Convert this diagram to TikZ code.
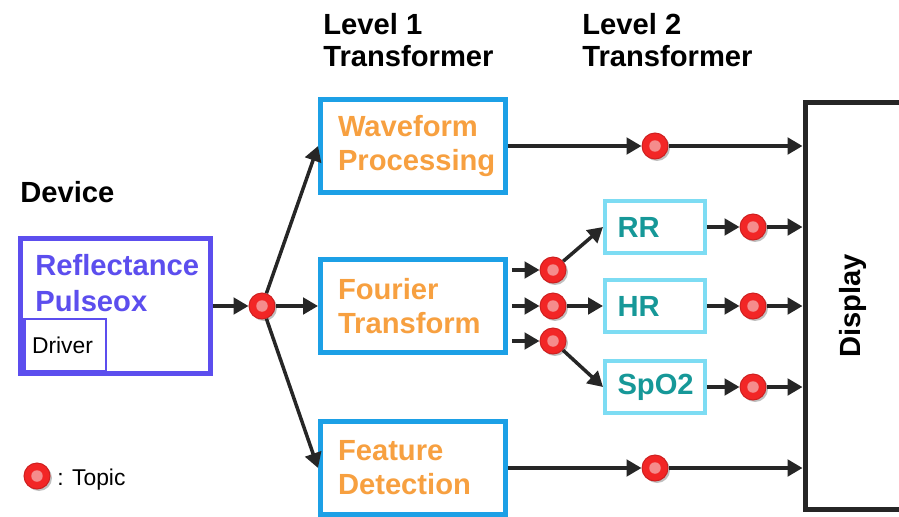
\documentclass[tikz,border=0pt]{standalone}
\usepackage{fontspec}
\usepackage{graphicx}
\setmainfont{Liberation Sans}
\usetikzlibrary{arrows.meta, positioning, shadows}

\definecolor{devblue}{RGB}{92,78,238}
\definecolor{lvlblue}{RGB}{28,160,230}
\definecolor{lvlorange}{RGB}{247,160,64}
\definecolor{subcyan}{RGB}{125,220,243}
\definecolor{subteal}{RGB}{22,152,152}
\definecolor{topicred}{RGB}{242,38,38}
\definecolor{topicpink}{RGB}{245,140,140}
\definecolor{linegray}{RGB}{38,38,38}

\begin{document}
\begin{tikzpicture}[x=0.02cm, y=-0.02cm,
  bigtext/.style = {font=\fontsize{16.6pt}{19.3pt}\selectfont\bfseries},
  smalltext/.style = {font=\fontsize{13pt}{15pt}\selectfont},
  boxshadow/.style = {drop shadow={shadow xshift=0.04cm, shadow yshift=-0.04cm, opacity=0.25, fill=black}},
  hdr/.style = {font=\fontsize{16.6pt}{18.2pt}\selectfont\bfseries, inner sep=0pt, align=left},
  devbox/.style = {draw=devblue, line width=0.1cm, fill=white, minimum width=3.8cm, minimum height=2.7cm, boxshadow},
  devtext/.style = {font=\fontsize{16.6pt}{20.8pt}\selectfont\bfseries, text=devblue, inner sep=0pt, align=left},
  drvbox/.style = {draw=devblue, line width=0.05cm, fill=white, minimum width=1.63cm, minimum height=1.05cm, inner xsep=0.155cm, text width=1.32cm, align=left, smalltext},
  l1box/.style = {draw=lvlblue, line width=0.1cm, fill=white, minimum width=3.7cm, minimum height=1.86cm, inner xsep=0.35cm, text width=3.0cm, align=left, text=lvlorange, bigtext, boxshadow},
  l2box/.style = {draw=subcyan, line width=0.08cm, fill=white, minimum width=2cm, minimum height=1.04cm, inner xsep=0.25cm, text width=1.5cm, align=left, text=subteal, bigtext, boxshadow},
  dispbox/.style = {draw=linegray, line width=0.1cm, fill=white, minimum width=6cm, minimum height=8.16cm, inner xsep=0.68cm, text width=4.64cm, align=left, bigtext, boxshadow},
  topic/.style = {circle, fill=topicred, draw=topicred!85!black, line width=0.02cm, minimum size=0.52cm, inner sep=0pt, boxshadow,
    path picture={\fill[topicpink] (path picture bounding box.center) circle (0.115cm);}},
  line/.style = {line width=0.07cm, draw=linegray, -{Triangle[length=0.3cm, width=0.33cm]}}
]
  \useasboundingbox (0,0) rectangle (899,517);
  \clip (0,0) rectangle (899,517);

  % Headers
  \node[hdr, anchor=base west] (devicelbl) at (20,202) {Device};
  \node[hdr, anchor=north west] (level1lbl) at (323,12.6) {Level 1\\Transformer};
  \node[hdr, anchor=north west] (level2lbl) at (582,12.6) {Level 2\\Transformer};

  % Device
  \node[devbox] (pulseox) at (115.5,306) {};
  \node[devtext, anchor=north west] (pulseoxlbl) at ([shift={(17,17.5)}]pulseox.north west) {Reflectance\\Pulseox};
  \node[drvbox, anchor=south west] (driver) at ([shift={(5,-3)}]pulseox.south west) {Driver};

  % Level 1
  \node[l1box] (waveform) at (413,146) {Waveform\\Processing};
  \node[l1box] (fourier) at (413,306) {Fourier\\Transform};
  \node[l1box] (feature) at (413,468) {Feature\\Detection};

  % Level 2
  \node[l2box] (rr) at (655,227) {RR};
  \node[l2box] (hr) at (655,306) {HR};
  \node[l2box] (spo) at (655,387) {SpO2};

  % Display
  \node[dispbox] (display) at (955,306) {\rotatebox{90}{Display}};

  % Topics
  \node[topic] (tsrc) at (262,306) {};
  \node[topic] (twave) at (655,146) {};
  \node[topic] (tfeat) at (655,468) {};
  \node[topic] (tfr1) at (553,270) {};
  \node[topic] (tfr2) at (553,306) {};
  \node[topic] (tfr3) at (553,341) {};
  \node[topic] (trr) at (753,227) {};
  \node[topic] (thr) at (753,306) {};
  \node[topic] (tspo) at (753,387) {};

  % Legend
  \node[topic] (tlegend) at (37,476) {};
  \node[smalltext, inner sep=0pt, anchor=base west] (legendlbl) at (57,485) {: Topic};

  % Connections
  \draw[line] (pulseox) -- (tsrc);
  \draw[line] (tsrc) -- (waveform.west);
  \draw[line] (tsrc) -- (fourier);
  \draw[line] (tsrc) -- (feature.west);

  \draw[line] (waveform) -- (twave);
  \draw[line] (twave) -- (twave -| display.west);
  \draw[line] (feature) -- (tfeat);
  \draw[line] (tfeat) -- (tfeat -| display.west);

  % Fourier outputs
  \draw[line, shorten <=0.08cm] (fourier.east |- tfr1) -- (tfr1);
  \draw[line, shorten <=0.08cm] (fourier.east |- tfr2) -- (tfr2);
  \draw[line, shorten <=0.08cm] (fourier.east |- tfr3) -- (tfr3);
  \draw[line] (tfr1) -- (rr.west);
  \draw[line] (tfr2) -- (hr);
  \draw[line] (tfr3) -- (spo.west);

  % Level 2 outputs
  \draw[line] (rr) -- (trr);
  \draw[line] (trr) -- (trr -| display.west);
  \draw[line] (hr) -- (thr);
  \draw[line] (thr) -- (thr -| display.west);
  \draw[line] (spo) -- (tspo);
  \draw[line] (tspo) -- (tspo -| display.west);

\end{tikzpicture}
\end{document}
